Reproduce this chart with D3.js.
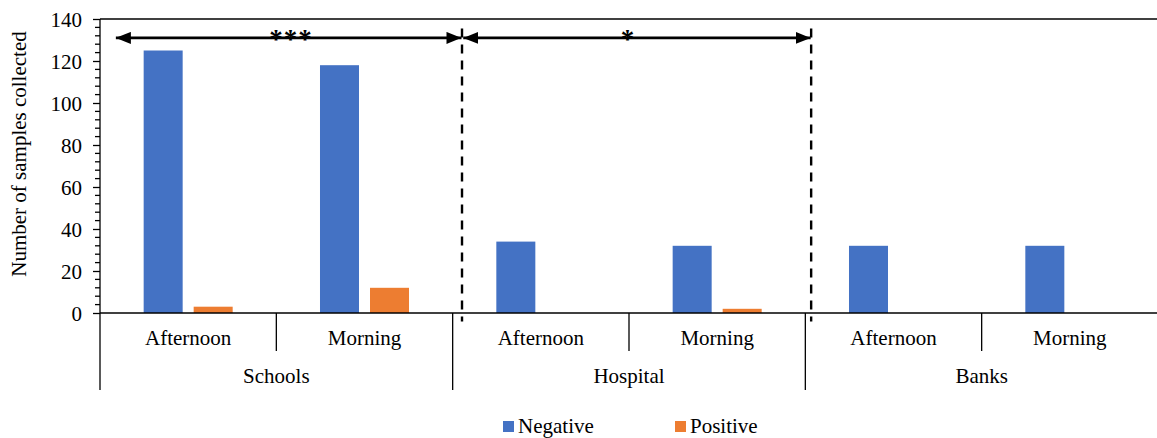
<!DOCTYPE html>
<html>
<head>
<meta charset="utf-8">
<script src="https://cdn.jsdelivr.net/npm/d3@7"></script>
<style>
  html, body { margin: 0; padding: 0; background: #fff; }
  svg { display: block; font-family: "Liberation Serif", "Times New Roman", serif; }
</style>
</head>
<body>
<svg id="chart" width="1157" height="438"></svg>
<script>
// ---- data ----
const groups = ["Schools", "Hospital", "Banks"];
const times = ["Afternoon", "Morning"];
const series = ["Negative", "Positive"];
const negative = [125, 118, 34, 32, 32, 32];
const positive = [3, 12, 0, 2, 0, 0];
const yTicks = [0, 20, 40, 60, 80, 100, 120, 140];
const yTitle = "Number of samples collected";
// significance annotations, in category units (0..6) and value units
const brackets = [
  { from: 0.09, to: 2.05, labelAt: 1.083, label: "***" },
  { from: 2.06, to: 4.03, labelAt: 2.994, label: "*" }
];
const dividers = [2.053, 4.033];
const bracketValue = 131;

const colors = { Negative: "#4472C4", Positive: "#ED7D31" };

// ---- layout ----
const svg = d3.select("#chart");
const pL = 100, pR = 1158, pT = 19, pB = 313;

const y = d3.scaleLinear().domain([0, 140]).range([pB, pT]);
const gx = d3.scaleBand().domain(groups).range([pL, pR]);
const tx = d3.scaleBand().domain(times).range([0, gx.bandwidth()]);
const sx = d3.scaleBand().domain(series).range([0, tx.bandwidth()])
  .paddingInner(0.22).paddingOuter(0.873);
const cx = d3.scaleLinear().domain([0, 6]).range([pL, pR]);

const rows = [];
groups.forEach((g, gi) => times.forEach((t, ti) => {
  const i = gi * times.length + ti;
  rows.push({ g, t, Negative: negative[i], Positive: positive[i] });
}));

// bars
const cell = svg.append("g").selectAll("g").data(rows).join("g")
  .attr("transform", d => `translate(${gx(d.g) + tx(d.t)},0)`);
cell.selectAll("rect").data(d => series.map(s => ({ s, v: d[s] })).filter(e => e.v > 0))
  .join("rect")
  .attr("x", e => sx(e.s))
  .attr("width", sx.bandwidth())
  .attr("y", e => y(e.v))
  .attr("height", e => y(0) - y(e.v))
  .attr("fill", e => colors[e.s]);

// top border
svg.append("line").attr("x1", pL).attr("x2", pR).attr("y1", pT).attr("y2", pT)
  .attr("stroke", "#000").attr("stroke-width", 1.5);

// y axis
const yAxis = d3.axisLeft(y).tickValues(yTicks).tickSize(7).tickPadding(11);
const ya = svg.append("g").attr("transform", `translate(${pL},0)`).call(yAxis);
ya.select(".domain").remove();
ya.selectAll(".tick line").attr("stroke", "#000").attr("stroke-width", 1.3);
ya.selectAll(".tick text").attr("font-size", 21).attr("font-family", "Liberation Serif, Times New Roman, serif")
  .attr("fill", "#000").attr("dy", "0.35em");
// minor ticks
const minor = d3.range(0, 141, 4).filter(v => v % 20 !== 0);
svg.append("g").selectAll("line").data(minor).join("line")
  .attr("x1", pL - 5).attr("x2", pL).attr("y1", d => y(d)).attr("y2", d => y(d))
  .attr("stroke", "#000").attr("stroke-width", 1.3);
// y axis line (continues down as group separator)
svg.append("line").attr("x1", pL).attr("x2", pL).attr("y1", pT).attr("y2", 390)
  .attr("stroke", "#000").attr("stroke-width", 1.3);

// x baseline
svg.append("line").attr("x1", pL).attr("x2", pR).attr("y1", y(0)).attr("y2", y(0))
  .attr("stroke", "#000").attr("stroke-width", 1.5);

// category separators
groups.forEach(g => {
  times.slice(1).forEach(t => {
    const x = gx(g) + tx(t);
    svg.append("line").attr("x1", x).attr("x2", x).attr("y1", y(0)).attr("y2", 351)
      .attr("stroke", "#000").attr("stroke-width", 1.3);
  });
});
groups.slice(1).forEach(g => {
  svg.append("line").attr("x1", gx(g)).attr("x2", gx(g)).attr("y1", y(0)).attr("y2", 390)
    .attr("stroke", "#000").attr("stroke-width", 1.3);
});

// category labels
svg.append("g").selectAll("text").data(rows).join("text")
  .attr("x", d => gx(d.g) + tx(d.t) + tx.bandwidth() / 2)
  .attr("y", 345)
  .attr("text-anchor", "middle").attr("font-size", 21).attr("fill", "#000")
  .text(d => d.t);
svg.append("g").selectAll("text").data(groups).join("text")
  .attr("x", d => gx(d) + gx.bandwidth() / 2)
  .attr("y", 383)
  .attr("text-anchor", "middle").attr("font-size", 21).attr("fill", "#000")
  .text(d => d);

// y title
svg.append("text")
  .attr("transform", `translate(26,${(pT + pB) / 2 - 12}) rotate(-90)`)
  .attr("text-anchor", "middle").attr("font-size", 21).attr("fill", "#000")
  .text(yTitle);

// dashed dividers
svg.append("g").selectAll("line").data(dividers).join("line")
  .attr("x1", d => cx(d)).attr("x2", d => cx(d))
  .attr("y1", y(135.5)).attr("y2", y(-4))
  .attr("stroke", "#000").attr("stroke-width", 2.4).attr("stroke-dasharray", "9,7");

// arrows
const defs = svg.append("defs");
defs.append("marker").attr("id", "ah").attr("viewBox", "0 0 15 12")
  .attr("refX", 15).attr("refY", 6).attr("markerWidth", 15).attr("markerHeight", 12)
  .attr("markerUnits", "userSpaceOnUse").attr("orient", "auto-start-reverse")
  .append("path").attr("d", "M0,0 L15,6 L0,12 Z").attr("fill", "#000");

const by = y(bracketValue);
svg.append("g").selectAll("line").data(brackets).join("line")
  .attr("x1", d => cx(d.from)).attr("x2", d => cx(d.to))
  .attr("y1", by).attr("y2", by)
  .attr("stroke", "#000").attr("stroke-width", 2.6)
  .attr("marker-start", "url(#ah)").attr("marker-end", "url(#ah)");
svg.append("g").selectAll("text").data(brackets).join("text")
  .attr("x", d => cx(d.labelAt))
  .attr("y", by + 10)
  .attr("text-anchor", "middle").attr("font-size", 27).attr("font-weight", "bold")
  .attr("letter-spacing", 1).attr("fill", "#000")
  .text(d => d.label);

// legend
const legendItems = [{ s: "Negative", x: 503 }, { s: "Positive", x: 675 }];
const lg = svg.append("g").selectAll("g").data(legendItems).join("g")
  .attr("transform", d => `translate(${d.x},0)`);
lg.append("rect").attr("x", 0).attr("y", 421).attr("width", 11).attr("height", 11)
  .attr("fill", d => colors[d.s]);
lg.append("text").attr("x", 15).attr("y", 433).attr("font-size", 21).attr("fill", "#000")
  .text(d => d.s);
</script>
</body>
</html>
